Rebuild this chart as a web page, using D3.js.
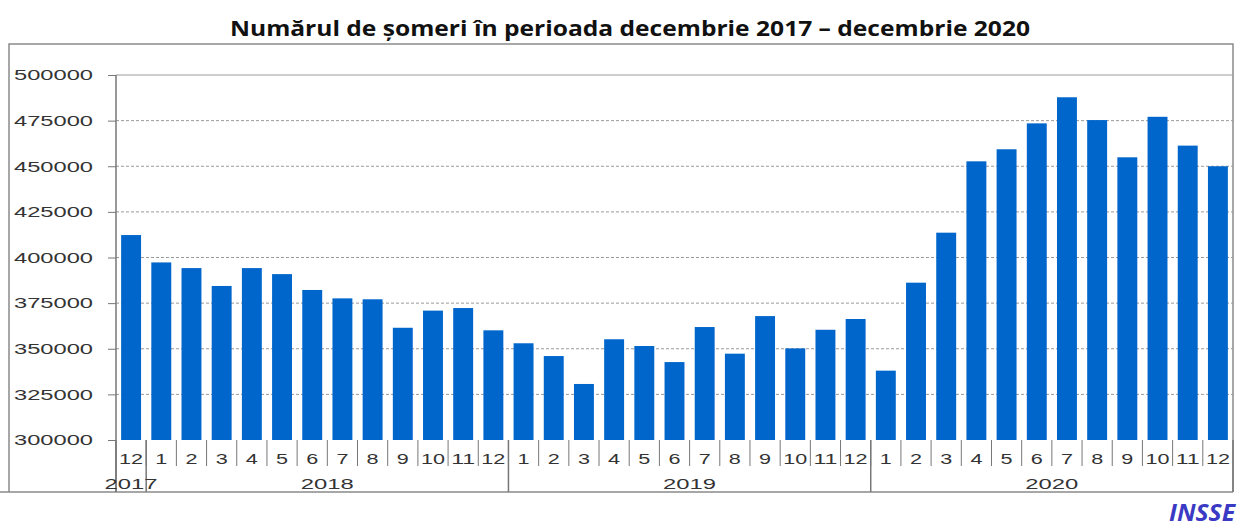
<!DOCTYPE html>
<html lang="ro">
<head>
  <meta charset="UTF-8">
  <title>Numărul de șomeri</title>
  <script src="https://d3js.org/d3.v7.min.js"></script>
  <style>
    body { margin: 0; background: #fff; }
    .bar { fill: #0066cc; }
    .lbl { font-family: Arial, "Liberation Sans", sans-serif; fill: #333; }
  </style>
</head>
<body>
  <svg id="chart"></svg>
  <script>
    // months shown under each bar (Dec 2017 .. Dec 2020)
    const months = ["12", "1", "2", "3", "4", "5", "6", "7", "8", "9", "10", "11", "12",
      "1", "2", "3", "4", "5", "6", "7", "8", "9", "10", "11", "12",
      "1", "2", "3", "4", "5", "6", "7", "8", "9", "10", "11", "12"];
    const years = ["2017", "2018", "2019", "2020"];
    const monthsPerYear = [1, 12, 12, 12];
    // number of unemployed
    const unemployed = [412300,
      397300, 394200, 384400, 394200, 390900, 382200, 377600, 377100, 361500, 370900, 372300, 360100,
      353000, 346000, 330700, 355200, 351500, 342700, 361900, 347300, 367900, 350200, 360400, 366300,
      338000, 386200, 413600, 452700, 459300, 473500, 487800, 475300, 454900, 477100, 461300, 450000];
    const yTicks = [300000, 325000, 350000, 375000, 400000, 425000, 450000, 475000, 500000];

    const width = 1241, height = 527;
    const plotLeft = 116, plotRight = 1233, plotTop = 75, plotBottom = 440;
    const frame = { x0: 9, y0: 44, x1: 1233, y1: 492 };

    const svg = d3.select("#chart").attr("width", width).attr("height", height);

    const x = d3.scaleBand()
      .domain(d3.range(unemployed.length))
      .range([plotLeft, plotRight])
      .paddingInner(0.34)
      .paddingOuter(0.17);
    const step = x.step();
    const y = d3.scaleLinear().domain([300000, 500000]).range([plotBottom, plotTop]);

    // title
    svg.append("text")
      .attr("x", 630).attr("y", 36)
      .attr("text-anchor", "middle")
      .attr("font-family", "'Open Sans', sans-serif")
      .attr("font-weight", "bold")
      .attr("font-size", 22)
      .attr("fill", "#111")
      .attr("textLength", 800)
      .attr("lengthAdjust", "spacingAndGlyphs")
      .text("Numărul de șomeri în perioada decembrie 2017 – decembrie 2020");

    // outer frame (top, left, right, bottom)
    svg.append("path")
      .attr("d", `M${frame.x0},${frame.y1}V${frame.y0}H${frame.x1}V${frame.y1}M${frame.x0 - 9},${frame.y1}H${frame.x1}`)
      .attr("fill", "none").attr("stroke", "#8a8a8a").attr("stroke-width", 1.5);

    // grid lines
    svg.append("g").selectAll("line")
      .data(yTicks.slice(1))
      .join("line")
      .attr("x1", plotLeft).attr("x2", plotRight)
      .attr("y1", d => y(d)).attr("y2", d => y(d))
      .attr("stroke", "#9a9a9a")
      .attr("stroke-dasharray", d => d === 500000 ? null : "3,2");

    // y axis
    const yAxis = svg.append("g")
      .attr("transform", `translate(${plotLeft},0)`)
      .call(d3.axisLeft(y).tickValues(yTicks).tickSize(8).tickPadding(15).tickFormat(d3.format("d")));
    yAxis.select(".domain").remove();
    yAxis.selectAll(".tick line").attr("stroke", "#777");
    yAxis.selectAll(".tick text")
      .attr("class", "lbl")
      .attr("font-size", 15)
      .attr("textLength", 79)
      .attr("lengthAdjust", "spacingAndGlyphs");

    // bars
    svg.append("g").selectAll("rect")
      .data(unemployed)
      .join("rect")
      .attr("class", "bar")
      .attr("x", (d, i) => x(i))
      .attr("width", x.bandwidth())
      .attr("y", d => y(d))
      .attr("height", d => y(300000) - y(d));

    // vertical axis line down to the frame bottom
    svg.append("line")
      .attr("x1", plotLeft).attr("x2", plotLeft)
      .attr("y1", plotTop).attr("y2", frame.y1)
      .attr("stroke", "#777").attr("stroke-width", 1.5);

    // month separators and labels
    svg.append("g").selectAll("line")
      .data(d3.range(1, months.length))
      .join("line")
      .attr("x1", i => plotLeft + i * step).attr("x2", i => plotLeft + i * step)
      .attr("y1", plotBottom).attr("y2", 466)
      .attr("stroke", "#777");

    svg.append("g").selectAll("text")
      .data(months)
      .join("text")
      .attr("class", "lbl")
      .attr("x", (d, i) => x(i) + x.bandwidth() / 2)
      .attr("y", 464)
      .attr("text-anchor", "middle")
      .attr("font-size", 15)
      .attr("textLength", d => d.length * 12)
      .attr("lengthAdjust", "spacingAndGlyphs")
      .text(d => d);

    // year groups
    const yearStart = Array.from(d3.cumsum([0].concat(monthsPerYear)));
    svg.append("g").selectAll("line")
      .data(yearStart)
      .join("line")
      .attr("x1", i => plotLeft + i * step).attr("x2", i => plotLeft + i * step)
      .attr("y1", plotBottom).attr("y2", frame.y1)
      .attr("stroke", "#777").attr("stroke-width", 1.5);

    svg.append("g").selectAll("text")
      .data(years)
      .join("text")
      .attr("class", "lbl")
      .attr("x", (d, i) => plotLeft + (yearStart[i] + monthsPerYear[i] / 2) * step)
      .attr("y", 489)
      .attr("text-anchor", "middle")
      .attr("font-size", 15)
      .attr("textLength", 53)
      .attr("lengthAdjust", "spacingAndGlyphs")
      .text(d => d);

    // source
    svg.append("text")
      .attr("x", 1235).attr("y", 521)
      .attr("text-anchor", "end")
      .attr("font-family", "'Open Sans', sans-serif")
      .attr("font-weight", "bold")
      .attr("font-style", "italic")
      .attr("font-size", 23)
      .attr("fill", "#3a3ac4")
      .attr("textLength", 66)
      .attr("lengthAdjust", "spacingAndGlyphs")
      .text("INSSE");
  </script>
</body>
</html>
